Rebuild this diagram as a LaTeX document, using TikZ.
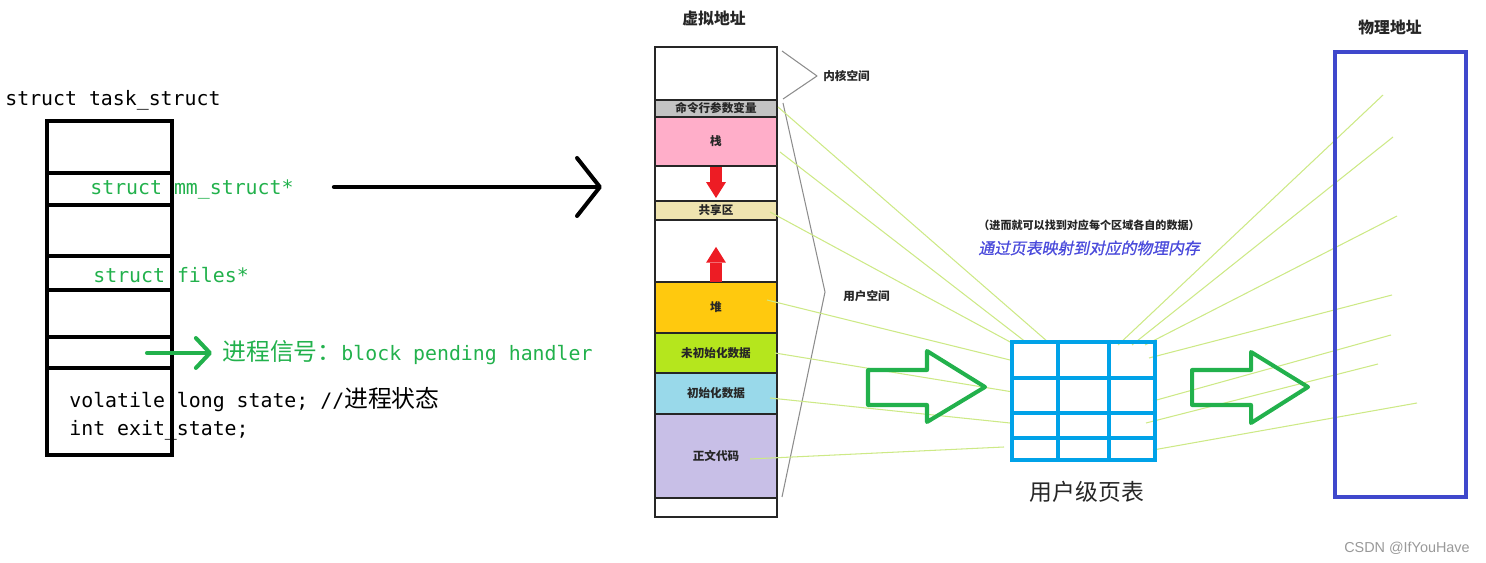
\documentclass[tikz,border=0pt]{standalone}
\usepackage{fontspec}
\setmonofont{DejaVu Sans Mono}
\newfontfamily\zh{Noto Sans CJK SC}
\newfontfamily\zhmono[Scale=1.2]{Noto Sans CJK SC}
\newfontfamily\zhslant[FakeSlant=0.2,FakeBold=1]{Noto Sans CJK SC}
\newfontfamily\wmfont{Liberation Sans}
\usetikzlibrary{arrows.meta,positioning,calc}
\definecolor{PaintGreen}{HTML}{22B14C}
\definecolor{PaintRed}{HTML}{ED1C24}
\definecolor{PaintCyan}{HTML}{00A2E8}
\definecolor{PaintIndigo}{HTML}{3F48CC}
\definecolor{SegGray}{HTML}{C3C3C3}
\definecolor{SegPink}{HTML}{FFAEC9}
\definecolor{SegTan}{HTML}{EFE4B0}
\definecolor{SegOrange}{HTML}{FFC90E}
\definecolor{SegLime}{HTML}{B5E61D}
\definecolor{SegSky}{HTML}{99D9EA}
\definecolor{SegLavender}{HTML}{C8BFE7}
\definecolor{FanLime}{HTML}{CDE986}
\definecolor{BraceGray}{HTML}{8C8C8C}
\definecolor{NoteBlue}{HTML}{4A4ADB}

\begin{document}
\begin{tikzpicture}[
  x=0.02cm,y=-0.02cm,
  cellbox/.style={
    draw=black,
    line width=2.3pt,
    minimum width=2.5cm,
    inner sep=0pt,
    outer sep=0pt
  },
  segbox/.style={
    draw=black!85,
    line width=0.9pt,
    minimum width=2.44cm,
    inner sep=0pt,
    outer sep=0pt,
    font=\zh\bfseries\fontsize{6.6}{7}\selectfont,
    text=black!85
  },
  monotext/.style={
    anchor=west,
    inner sep=0pt,
    font=\ttfamily\fontsize{11.3}{13}\selectfont
  },
  fieldtext/.style={
    monotext,
    text=PaintGreen
  },
  bigflow/.style={
    -{Straight Barb[length=13pt,width=33pt,round]},
    line width=2.3pt,
    line cap=round
  },
  sigflow/.style={
    -{Straight Barb[length=8pt,width=17pt,round]},
    line width=2.3pt,
    line cap=round,
    draw=PaintGreen
  },
  growarrow/.style={
    -{Triangle[width=11.3pt,length=9pt,line width=0pt]},
    line width=6.8pt,
    draw=PaintRed
  },
  fanline/.style={
    draw=FanLime,
    line width=0.6pt
  },
  braceline/.style={
    draw=BraceGray,
    line width=0.6pt,
    line join=round
  },
  hollowarrow/.style={
    draw=PaintGreen,
    line width=2.3pt,
    line join=round
  },
  tablegrid/.style={
    draw=PaintCyan,
    line width=2.3pt
  },
  titletext/.style={
    inner sep=0pt,
    font=\zh\bfseries\fontsize{9}{10}\selectfont,
    text=black!85
  },
  sidelabel/.style={
    anchor=west,
    inner sep=0pt,
    font=\zh\bfseries\fontsize{6.6}{7}\selectfont,
    text=black!85
  }
]
\useasboundingbox (0,0) rectangle (1486,563);

% -------------------------------------------------
% task_struct
% -------------------------------------------------
\node[monotext] (tasktitle) at (5,100) {struct task\_struct};

\node[cellbox, minimum height=1.04cm] (row1) at (109.5,147) {};
\node[cellbox, minimum height=0.64cm, below=0pt of row1] (row2) {};
\node[cellbox, minimum height=1.02cm, below=0pt of row2] (row3) {};
\node[cellbox, minimum height=0.68cm, below=0pt of row3] (row4) {};
\node[cellbox, minimum height=0.94cm, below=0pt of row4] (row5) {};
\node[cellbox, minimum height=0.62cm, below=0pt of row5] (row6) {};
\node[cellbox, minimum height=1.74cm, below=0pt of row6] (row7) {};

\node[fieldtext] (mmfield) at (90,189) {struct mm\_struct*};
\node[fieldtext] (filesfield) at (93,275) {struct files*};
\node[fieldtext] (sigfield) at (222,353) {{\zhmono 进程信号：}block pending handler};
\node[monotext] (statefield) at (69,400) {volatile long state; //{\zhmono 进程状态}};
\node[monotext] (exitfield) at (69,430) {int exit\_state;};

\draw[sigflow, shorten >=5.7pt] ($(row6.east |- sigfield.west)+(-25,0)$) -- (sigfield.west);
\draw[bigflow] ($(mmfield.east)+(40,-2)$) -- ++(268,0);

% -------------------------------------------------
% virtual address space
% -------------------------------------------------
\node[titletext] (virttitle) at (714,18) {虚拟地址};

\node[segbox, minimum height=1.06cm] (kern) at (716,73.5) {};
\node[segbox, fill=SegGray, minimum height=0.34cm, below=0pt of kern] (cmdargs) {命令行参数变量};
\node[segbox, fill=SegPink, minimum height=0.98cm, below=0pt of cmdargs] (stack) {栈};
\node[segbox, minimum height=0.70cm, below=0pt of stack] (gapdown) {};
\node[segbox, fill=SegTan, minimum height=0.38cm, below=0pt of gapdown] (shared) {共享区};
\node[segbox, minimum height=1.24cm, below=0pt of shared] (gapup) {};
\node[segbox, fill=SegOrange, minimum height=1.02cm, below=0pt of gapup] (heap) {堆};
\node[segbox, fill=SegLime, minimum height=0.80cm, below=0pt of heap] (bss) {未初始化数据};
\node[segbox, fill=SegSky, minimum height=0.82cm, below=0pt of bss] (initdata) {初始化数据};
\node[segbox, fill=SegLavender, minimum height=1.68cm, below=0pt of initdata] (textseg) {正文代码};
\node[segbox, minimum height=0.38cm, below=0pt of textseg] (bottomseg) {};

\draw[growarrow, shorten <=0.6pt, shorten >=1.7pt] (gapdown.north) -- (gapdown.south);
\draw[growarrow, shorten >=15.3pt] (gapup.south) -- (gapup.north);

\node[sidelabel] (kernlabel) at (823,76) {内核空间};
\node[sidelabel] (userlabel) at (843,296) {用户空间};
\draw[braceline] (782,51) -- ($(kernlabel.west)+(-6,0)$) -- (783,99);
\draw[braceline] (783,103) -- ($(userlabel.west)+(-18,-4)$) -- (782,497);

% -------------------------------------------------
% mapping lines
% -------------------------------------------------
\foreach \i/\ax/\ay/\bx/\by in {1/778/107/1048/342, 2/780/152/1027/343, 3/770/212/1012/343,
    4/767/300/1010/360, 5/775/353/1013/392, 6/770/398/1010/423, 7/750/459/1004/447}{
  \coordinate (vfrom\i) at (\ax,\ay);
  \coordinate (vto\i) at (\bx,\by);
  \draw[fanline] (vfrom\i) -- (vto\i);
}
\foreach \i/\ax/\ay/\bx/\by in {1/1118/345/1383/95, 2/1132/345/1393/137, 3/1145/345/1397/216,
    4/1149/358/1392/295, 5/1153/401/1391/335, 6/1146/423/1378/364, 7/1153/450/1417/403}{
  \coordinate (pfrom\i) at (\ax,\ay);
  \coordinate (pto\i) at (\bx,\by);
  \draw[fanline] (pfrom\i) -- (pto\i);
}

\node[inner sep=0pt, anchor=west, font=\zh\bfseries\fontsize{6.3}{7}\selectfont, text=black!85] (hintnote) at (978,225)
  {（进而就可以找到对应每个区域各自的数据）};
\node[inner sep=0pt, anchor=west, font=\zhslant\fontsize{9}{10}\selectfont, text=NoteBlue] (mapnote) at (978,248)
  {通过页表映射到对应的物理内存};

% -------------------------------------------------
% page table
% -------------------------------------------------
\draw[hollowarrow] (868,370) -- (927,370) -- (927,351) -- (985,387) -- (927,422) -- (927,405) -- (868,405) -- cycle;

\node[draw=PaintCyan, line width=2.3pt, minimum width=2.86cm, minimum height=2.36cm, inner sep=0pt] (ptable) at (1083.5,401) {};
\foreach \f in {0.329,0.671}
  \draw[tablegrid] ($(ptable.north west)!\f!(ptable.north east)$) -- ($(ptable.south west)!\f!(ptable.south east)$);
\foreach \f in {0.314,0.60,0.805}
  \draw[tablegrid] ($(ptable.north west)!\f!(ptable.south west)$) -- ($(ptable.north east)!\f!(ptable.south east)$);
\node[inner sep=0pt, font=\zh\fontsize{13}{15}\selectfont, text=black!85] (ptlabel) at (1087,492) {用户级页表};

\draw[hollowarrow] (1192,370) -- (1251,370) -- (1251,352) -- (1308,387) -- (1251,423) -- (1251,405) -- (1192,405) -- cycle;

% -------------------------------------------------
% physical memory
% -------------------------------------------------
\node[titletext] (phystitle) at (1390,27) {物理地址};
\node[draw=PaintIndigo, line width=2.3pt, minimum width=2.62cm, minimum height=8.9cm, inner sep=0pt] (physmem) at (1400.5,274.5) {};

\node[inner sep=0pt, anchor=east, font=\wmfont\fontsize{8.2}{9}\selectfont, text=black!40] (watermark) at (1470,548) {CSDN @IfYouHave};

\end{tikzpicture}
\end{document}
